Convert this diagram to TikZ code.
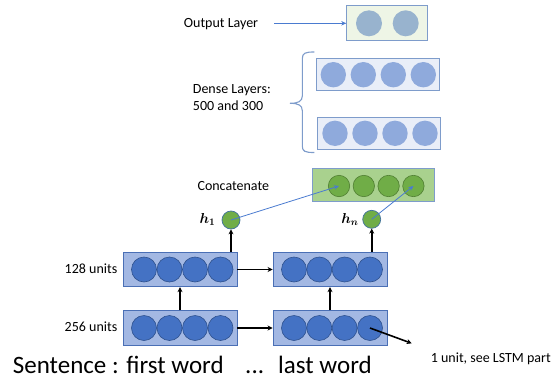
\documentclass[tikz,border=0pt]{standalone}
\usepackage{bm}
\usepackage{fontspec}
\setmainfont{Carlito}
\usetikzlibrary{arrows.meta}
\definecolor{lstmfill}{HTML}{A3B8E3}
\definecolor{lstmedge}{HTML}{4A6FB5}
\definecolor{lstmcirc}{HTML}{4472C4}
\definecolor{lstmcedge}{HTML}{2F528F}
\definecolor{densefill}{HTML}{E9EEF8}
\definecolor{denseedge}{HTML}{7E9CCB}
\definecolor{densecirc}{HTML}{8FAADC}
\definecolor{outfill}{HTML}{EEF5E6}
\definecolor{outcirc}{HTML}{98B3CE}
\definecolor{catfill}{HTML}{A9D18E}
\definecolor{catcirc}{HTML}{70AD47}
\definecolor{catcedge}{HTML}{507E32}
\definecolor{hedge}{HTML}{41719C}
\definecolor{linkblue}{HTML}{4A7BD0}
\tikzset{
  lstmbox/.style={draw=lstmedge, fill=lstmfill, line width=0.9pt, minimum width=114pt, minimum height=34.4pt, inner sep=0pt},
  lstmunit/.style={circle, draw=lstmcedge, fill=lstmcirc, line width=0.6pt, minimum size=25pt, inner sep=0pt},
  densebox/.style={draw=denseedge, fill=densefill, line width=0.9pt, minimum width=123.5pt, minimum height=32pt, inner sep=0pt},
  denseunit/.style={circle, fill=densecirc, minimum size=25.4pt, inner sep=0pt},
  outbox/.style={draw=denseedge, fill=outfill, line width=0.9pt, minimum width=81pt, minimum height=35pt, inner sep=0pt},
  outunit/.style={circle, fill=outcirc, minimum size=26pt, inner sep=0pt},
  catbox/.style={draw=denseedge, fill=catfill, line width=0.9pt, minimum width=121.6pt, minimum height=33.4pt, inner sep=0pt},
  catunit/.style={circle, draw=catcedge, fill=catcirc, line width=0.6pt, minimum size=21.4pt, inner sep=0pt},
  hunit/.style={circle, draw=hedge, fill=catcirc, line width=0.7pt, minimum size=18pt, inner sep=0pt},
  blackarrow/.style={line width=1.6pt, -{Stealth[length=5pt,width=5pt]}},
  bluearrow/.style={draw=linkblue, line width=0.8pt, -{Stealth[length=5pt,width=4.5pt]}},
  lbl/.style={font=\fontsize{14}{16.7}\selectfont, inner sep=0pt},
  big/.style={font=\fontsize{25}{30}\selectfont, inner sep=0pt},
}
\begin{document}
\begin{tikzpicture}[x=1pt, y=-1pt]
\useasboundingbox (0,0) rectangle (554,383);
% output layer
\node[outbox] (out) at (387.2,22.5) {};
\node[outunit] (o1) at (369,23.3) {};
\node[outunit] (o2) at (405.7,23.3) {};
\node[lbl, anchor=base] (outlbl) at (221,27.3) {Output Layer};
\coordinate (outstart) at (274,23.3);
\draw[bluearrow] (outstart) -- (out.west |- outstart);
% dense layers
\node[densebox] (d1) at (377.8,74.7) {};
\node[denseunit] (d11) at (333.3,74.7) {};
\node[denseunit] (d12) at (363.3,74.7) {};
\node[denseunit] (d13) at (393.3,74.7) {};
\node[denseunit] (d14) at (423.3,74.7) {};
\node[densebox] (d2) at (378.8,133.3) {};
\node[denseunit] (d21) at (335,133.3) {};
\node[denseunit] (d22) at (365,133.3) {};
\node[denseunit] (d23) at (395,133.3) {};
\node[denseunit] (d24) at (425,133.3) {};
\coordinate (brtop) at (314.3,52);
\coordinate (brmid) at (290,103.3);
\coordinate (brbot) at (314.3,152.5);
\draw[denseedge, line width=1.1pt]
  (brtop) .. controls (305,52) and (302.3,53) .. (302.3,59)
  -- (302.3,96) .. controls (302.3,101.5) and (298,103.3) .. (brmid)
  .. controls (298,103.3) and (302.3,105.1) .. (302.3,110.6)
  -- (302.3,146) .. controls (302.3,151.5) and (305,152.5) .. (brbot);
\node[lbl, anchor=base west] (densetxt) at (192.7,93.3) {Dense Layers:};
\node[lbl, anchor=base west] (densetxt2) at (192.7,110) {500 and 300};
% concatenate
\node[catbox] (cat) at (373.5,185) {};
\node[catunit] (c1) at (339,186) {};
\node[catunit] (c2) at (363.8,186) {};
\node[catunit] (c3) at (388.6,186) {};
\node[catunit] (c4) at (413.4,186) {};
\node[lbl, anchor=base] (cattxt) at (233.3,190.7) {Concatenate};
\node[hunit] (h1) at (231,220) {};
\node[hunit] (hn) at (371.7,219.3) {};
\node[lbl] (h1lbl) at (207.5,219.5) {$\bm{h_1}$};
\node[lbl] (hnlbl) at (350,219.5) {$\bm{h_n}$};
\draw[bluearrow] (h1.center) -- (c1.center);
\draw[bluearrow] (hn.center) -- (c4.center);
% LSTM rows
\node[lstmbox] (lt) at (180,269.5) {};
\node[lstmbox] (rt) at (330,269.5) {};
\node[lstmbox] (lb) at (180,328) {};
\node[lstmbox] (rb) at (330,328) {};
\foreach \r/\y in {lt/269.5, lb/328}{
  \node[lstmunit] (\r1) at (144,\y) {};
  \node[lstmunit] (\r2) at (169.5,\y) {};
  \node[lstmunit] (\r3) at (195,\y) {};
  \node[lstmunit] (\r4) at (220.5,\y) {};
}
\foreach \r/\y in {rt/269.5, rb/328}{
  \node[lstmunit] (\r1) at (294,\y) {};
  \node[lstmunit] (\r2) at (319.3,\y) {};
  \node[lstmunit] (\r3) at (344.6,\y) {};
  \node[lstmunit] (\r4) at (370,\y) {};
}
\draw[blackarrow] (lt.east) -- (rt.west);
\draw[blackarrow] (lb.east) -- (rb.west);
\draw[blackarrow] (lb.north) -- (lt.south);
\draw[blackarrow] (rb.north) -- (rt.south);
\draw[blackarrow] (h1 |- lt.north) -- (h1.south);
\draw[blackarrow] (hn |- rt.north) -- (hn.south);
\coordinate (lstmend) at (411.7,343.3);
\draw[blackarrow] (rb4.center) -- (lstmend);
\node[lbl, anchor=base] (u128) at (91,273.5) {128 units};
\node[lbl, anchor=base] (u256) at (91,331.5) {256 units};
\node[lbl, anchor=base] (onelbl) at (490.8,362.7) {1 unit, see LSTM part};
% sentence
\node[big, anchor=base west] (s1) at (12.7,373.3) {Sentence : first word};
\node[big, anchor=base west] (s2) at (245,373.3) {...};
\node[big, anchor=base west] (s3) at (278,373.3) {last word};
\end{tikzpicture}
\end{document}
